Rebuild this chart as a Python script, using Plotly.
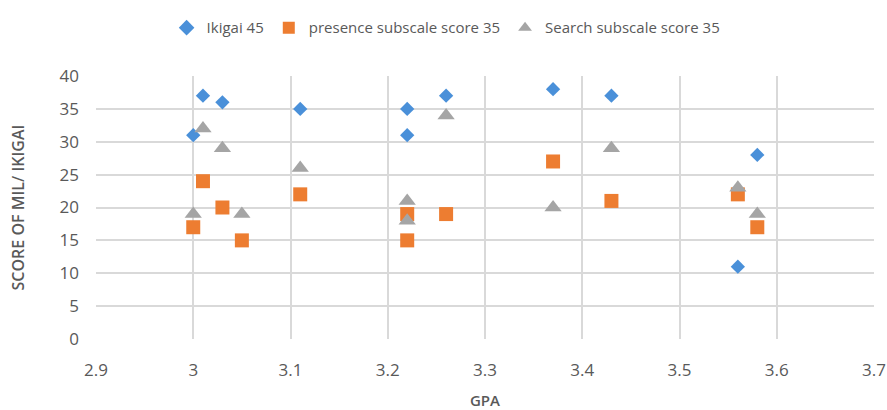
import plotly.graph_objects as go

ikigai_x = [3.00, 3.01, 3.03, 3.11, 3.22, 3.22, 3.26, 3.37, 3.43, 3.56, 3.58]
ikigai_y = [31, 37, 36, 35, 35, 31, 37, 38, 37, 11, 28]

presence_x = [3.00, 3.01, 3.03, 3.05, 3.11, 3.22, 3.22, 3.26, 3.37, 3.43, 3.56, 3.58]
presence_y = [17, 24, 20, 15, 22, 19, 15, 19, 27, 21, 22, 17]

search_x = [3.00, 3.01, 3.03, 3.05, 3.11, 3.22, 3.22, 3.26, 3.37, 3.43, 3.56, 3.58]
search_y = [19, 32, 29, 19, 26, 21, 18, 34, 20, 29, 23, 19]

x_ticks = [2.9, 3.0, 3.1, 3.2, 3.3, 3.4, 3.5, 3.6, 3.7]
x_tick_labels = ["2.9", "3", "3.1", "3.2", "3.3", "3.4", "3.5", "3.6", "3.7"]
y_ticks = [0, 5, 10, 15, 20, 25, 30, 35, 40]

font_fam = "Open Sans, Liberation Sans, sans-serif"
txt = "#595959"

fig = go.Figure()
fig.add_trace(go.Scatter(x=ikigai_x, y=ikigai_y, mode="markers", name="Ikigai 45",
                         marker=dict(symbol="diamond", size=11, color="#4A90D9")))
fig.add_trace(go.Scatter(x=presence_x, y=presence_y, mode="markers", name="presence subscale score 35",
                         marker=dict(symbol="square", size=14, color="#ED7D31")))
fig.add_trace(go.Scatter(x=search_x, y=search_y, mode="markers", name="Search subscale score 35",
                         marker=dict(symbol="triangle-up", size=15, color="#A5A5A5")))

fig.update_layout(
    width=887, height=410,
    margin=dict(l=96, r=13, t=76, b=71, autoexpand=False),
    paper_bgcolor="white", plot_bgcolor="white",
    font=dict(family=font_fam, color=txt),
    showlegend=True,
    legend=dict(orientation="h", x=0.45, xanchor="center", yref="container",
                y=0.932, yanchor="middle",
                font=dict(size=15, color=txt), itemsizing="constant", tracegroupgap=0,
                itemwidth=30),
    xaxis=dict(range=[2.9, 3.7], tickvals=x_ticks, ticktext=x_tick_labels,
               showgrid=True, gridcolor="#D9D9D9", gridwidth=2, zeroline=False,
               showline=False, ticks="", tickfont=dict(size=17, color=txt),
               ticklabelstandoff=19, automargin=False,
               title=dict(text="GPA", font=dict(size=15, color=txt, weight=600), standoff=20)),
    yaxis=dict(range=[0, 40], tickvals=y_ticks,
               showgrid=True, gridcolor="#D9D9D9", gridwidth=2, zeroline=False,
               showline=False, ticks="", tickfont=dict(size=17, color=txt),
               ticklabelstandoff=16, automargin=False,
               title=dict(text="SCORE OF MIL/ IKIGAI", font=dict(size=16, color=txt, weight=600),
                          standoff=30)),
)

fig.write_html("out.html", config={"displayModeBar": False},
               post_script="document.body.style.margin='0';")
